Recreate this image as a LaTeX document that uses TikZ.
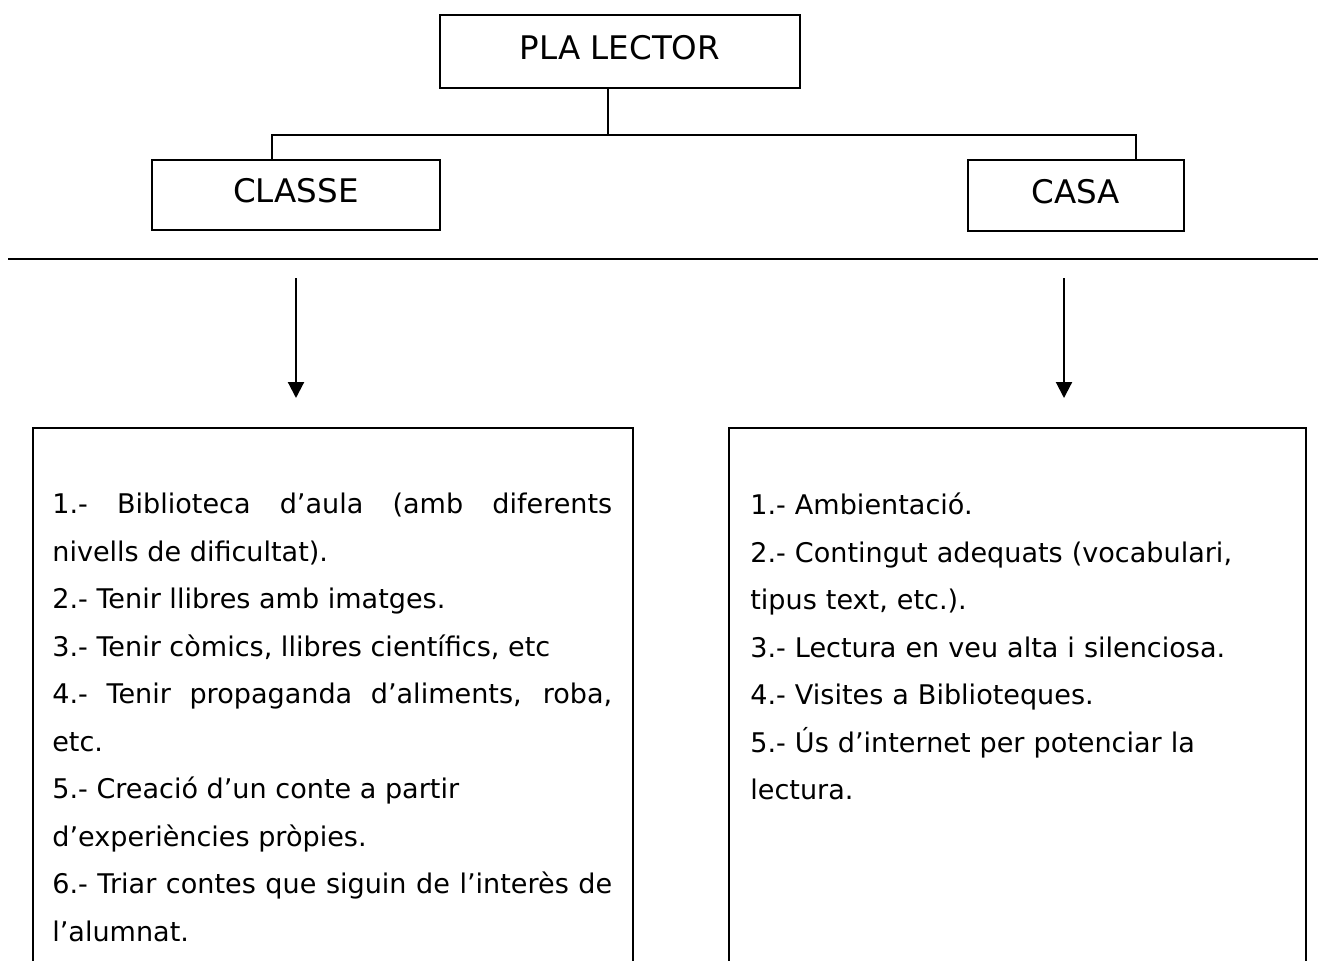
\documentclass[tikz,border=0pt]{standalone}
\usepackage{fontspec}
\setmainfont{DejaVu Sans}
\usepackage{tikz}
\usetikzlibrary{shapes,arrows.meta,positioning,calc}

\begin{document}
\begin{tikzpicture}[x=0.02cm,y=-0.02cm,
    titlebox/.style={draw,line width=1pt,inner sep=0pt,text height=0.475cm,text depth=0.16cm,
        font=\fontsize{18.5pt}{22pt}\selectfont},
    listbox/.style={draw,line width=1pt,anchor=north west,inner sep=0pt},
    listtext/.style={anchor=north west,inner sep=0pt,font=\fontsize{15.4pt}{0.95cm}\selectfont},
    branch/.style={line width=1pt},
    down/.style={line width=1.2pt,-{Triangle[width=0.32cm,length=0.32cm]}}]

    % page size (the list boxes run off the bottom)
    \clip (0,0) rectangle (1318,960);

    % PLA LECTOR tree
    \node[titlebox,minimum width=7.2cm,minimum height=1.46cm] (pla) at (620,51.5) {PLA LECTOR};
    \node[titlebox,minimum width=5.76cm,minimum height=1.4cm] (classe) at (296,195) {CLASSE};
    \node[titlebox,minimum width=4.32cm,minimum height=1.42cm] (casa) at (1076,195.5) {CASA};

    \coordinate (fork) at (608,135);
    \draw[branch] (pla.south -| fork) -- (fork);
    \draw[branch] (fork) -| ([xshift=-0.48cm]classe.north);
    \draw[branch] (fork) -| ([xshift=1.2cm]casa.north);

    % separating rule
    \draw[line width=1.4pt] (8,259) -- (1318,259);

    % arrows down to the lists
    \coordinate (classetop) at (296,278);
    \coordinate (classeend) at (296,398);
    \coordinate (casatop) at (1064,278);
    \coordinate (casaend) at (1064,398);
    \draw[down] (classetop) -- (classeend);
    \draw[down] (casatop) -- (casaend);

    % list at school
    \node[listbox,minimum width=12cm,minimum height=11.6cm] (classelist) at (32,427) {};
    \node[listtext,text width=11.2cm,align=justify] (classeitems) at ($(classelist.north west)+(20,66)$) {%
        1.- Biblioteca d’aula (amb diferents\linebreak
        nivells de dificultat).\\
        2.- Tenir llibres amb imatges.\\
        3.- Tenir còmics, llibres científics, etc\\
        4.- Tenir propaganda d’aliments, roba,\linebreak
        etc.\\
        5.- Creació d’un conte a partir\\
        d’experiències pròpies.\\
        6.- Triar contes que siguin de l’interès de\linebreak
        l’alumnat.};

    % list at home
    \node[listbox,minimum width=11.54cm,minimum height=11.6cm] (casalist) at (728,427) {};
    \node[listtext,text width=10.8cm,align=left] (casaitems) at ($(casalist.north west)+(22,66)$) {%
        1.- Ambientació.\\
        2.- Contingut adequats (vocabulari,\\
        tipus text, etc.).\\
        3.- Lectura en veu alta i silenciosa.\\
        4.- Visites a Biblioteques.\\
        5.- Ús d’internet per potenciar la\\
        lectura.};

\end{tikzpicture}
\end{document}
